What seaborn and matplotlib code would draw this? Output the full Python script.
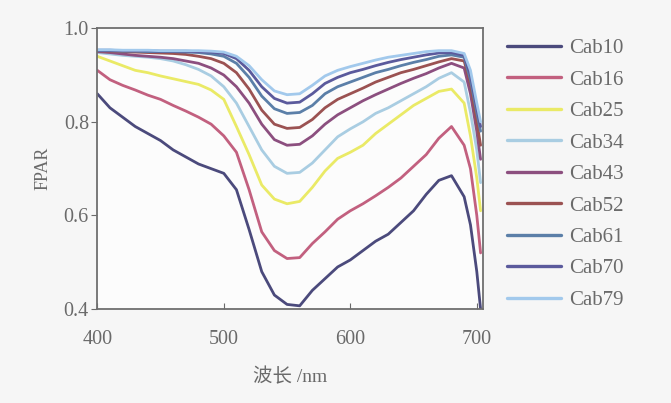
import pandas as pd
import matplotlib
matplotlib.use("Agg")
import matplotlib.pyplot as plt
import seaborn as sns

# wavelength (nm)
wavelength = [400, 410, 420, 430, 440, 450, 460, 470, 480, 490, 500, 510, 520, 530, 540, 550,
              560, 570, 580, 590, 600, 610, 620, 630, 640, 650, 660, 670, 680, 690, 695, 700, 703]

cab10 = [0.86, 0.83, 0.81, 0.79, 0.775, 0.76, 0.74, 0.725, 0.71, 0.70, 0.69, 0.655, 0.57, 0.48, 0.43, 0.41,
         0.407, 0.44, 0.465, 0.49, 0.505, 0.525, 0.545, 0.56, 0.585, 0.61, 0.645, 0.675, 0.685, 0.64, 0.58, 0.48, 0.40]
cab16 = [0.91, 0.89, 0.878, 0.868, 0.857, 0.848, 0.835, 0.823, 0.81, 0.795, 0.77, 0.735, 0.655, 0.565, 0.525, 0.508,
         0.51, 0.54, 0.565, 0.592, 0.61, 0.625, 0.642, 0.66, 0.68, 0.705, 0.73, 0.765, 0.79, 0.75, 0.70, 0.60, 0.52]
cab25 = [0.94, 0.93, 0.92, 0.91, 0.905, 0.898, 0.892, 0.886, 0.88, 0.868, 0.848, 0.79, 0.73, 0.665, 0.635, 0.625,
         0.63, 0.66, 0.695, 0.722, 0.735, 0.75, 0.775, 0.795, 0.815, 0.835, 0.85, 0.865, 0.87, 0.84, 0.77, 0.68, 0.61]
cab34 = [0.948, 0.945, 0.942, 0.94, 0.938, 0.935, 0.93, 0.922, 0.912, 0.898, 0.875, 0.84, 0.79, 0.74, 0.705, 0.69,
         0.692, 0.712, 0.74, 0.768, 0.785, 0.80, 0.818, 0.83, 0.845, 0.86, 0.875, 0.893, 0.905, 0.885, 0.82, 0.74, 0.67]
cab43 = [0.95, 0.948, 0.945, 0.942, 0.94, 0.938, 0.935, 0.93, 0.925, 0.915, 0.90, 0.875, 0.84, 0.795, 0.762, 0.75,
         0.752, 0.77, 0.795, 0.815, 0.83, 0.845, 0.858, 0.87, 0.882, 0.893, 0.903, 0.915, 0.925, 0.915, 0.86, 0.78, 0.72]
cab52 = [0.952, 0.951, 0.95, 0.949, 0.948, 0.947, 0.946, 0.944, 0.94, 0.935, 0.925, 0.905, 0.87, 0.825, 0.795, 0.786,
         0.788, 0.805, 0.83, 0.848, 0.86, 0.872, 0.885, 0.895, 0.905, 0.912, 0.92, 0.928, 0.935, 0.93, 0.88, 0.80, 0.75]
cab61 = [0.952, 0.952, 0.951, 0.951, 0.95, 0.95, 0.95, 0.949, 0.948, 0.945, 0.94, 0.925, 0.895, 0.855, 0.828, 0.818,
         0.82, 0.835, 0.86, 0.875, 0.885, 0.895, 0.905, 0.912, 0.92, 0.927, 0.933, 0.94, 0.943, 0.938, 0.89, 0.82, 0.78]
cab70 = [0.953, 0.953, 0.952, 0.952, 0.952, 0.951, 0.951, 0.951, 0.95, 0.949, 0.946, 0.935, 0.91, 0.875, 0.85, 0.84,
         0.842, 0.86, 0.882, 0.895, 0.905, 0.912, 0.92, 0.927, 0.933, 0.938, 0.943, 0.947, 0.948, 0.942, 0.90, 0.83, 0.79]
cab79 = [0.954, 0.954, 0.953, 0.953, 0.953, 0.952, 0.952, 0.952, 0.952, 0.951, 0.949, 0.94, 0.92, 0.89, 0.866, 0.858,
         0.86, 0.878, 0.898, 0.91, 0.918, 0.925, 0.932, 0.938, 0.942, 0.946, 0.95, 0.952, 0.952, 0.946, 0.91, 0.84, 0.80]

names = ["Cab10", "Cab16", "Cab25", "Cab34", "Cab43", "Cab52", "Cab61", "Cab70", "Cab79"]
series = [cab10, cab16, cab25, cab34, cab43, cab52, cab61, cab70, cab79]
colors = ["#4b4a7c", "#c2607f", "#eaea66", "#a9cde2", "#8c4f7f", "#9b5252", "#5b7fa8", "#5b5a9c", "#a2c9ec"]

rows = []
for name, vals in zip(names, series):
    for w, v in zip(wavelength, vals):
        rows.append({"wl": w, "fpar": v, "cab": name})
df = pd.DataFrame(rows)

sns.set_style("ticks")
plt.rcParams["font.family"] = ["Liberation Serif", "Noto Sans CJK SC"]
txt = "#6a6a6a"

fig = plt.figure(figsize=(6.71, 4.03), dpi=100, facecolor="#f6f6f6")
ax = fig.add_axes([0.145, 0.233, 0.575, 0.697])
ax.set_facecolor("#fcfcfc")

sns.lineplot(data=df, x="wl", y="fpar", hue="cab", hue_order=names,
             palette=colors, linewidth=2.0, ax=ax)

ax.set_xlim(400, 705)
ax.set_ylim(0.4, 1.0)
ax.set_xticks([400, 500, 600, 700])
ax.set_yticks([0.4, 0.6, 0.8, 1.0])
ax.set_yticklabels(["0.4", "0.6", "0.8", "1.0"])
ax.tick_params(axis="x", direction="in", length=4, pad=15, labelsize=14.5, colors=txt)
ax.tick_params(axis="y", direction="out", length=4, pad=2, labelsize=14.5, colors=txt)
for s in ax.spines.values():
    s.set_color("#6f6f6f")
    s.set_linewidth(1.3)

ax.set_xlabel("波长 /nm", fontsize=14, color=txt, labelpad=14)
ax.set_ylabel("FPAR", fontsize=13, color=txt, labelpad=9)

leg = ax.legend(loc="upper left", bbox_to_anchor=(1.035, 1.0), frameon=False,
                handlelength=2.6, handletextpad=0.4, labelspacing=0.57, fontsize=15,
                borderaxespad=0.1)
for t in leg.get_texts():
    t.set_color(txt)
for h in leg.get_lines():
    h.set_linewidth(2.4)

fig.savefig("out.png", dpi=100, facecolor=fig.get_facecolor())
